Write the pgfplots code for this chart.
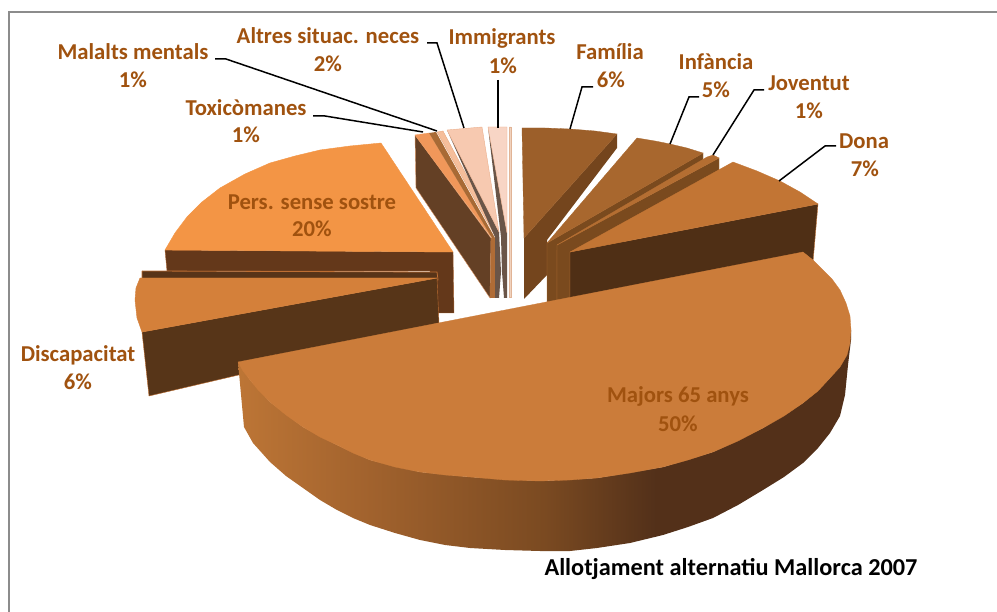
\documentclass[border=0pt]{standalone}
\usepackage{pgfplots}
\pgfplotsset{compat=1.18}
\usepackage{fontspec}
\setmainfont{Carlito}
\definecolor{lab}{HTML}{A0520F}
\definecolor{bigtop}{HTML}{CB7C3A}
\definecolor{bigdark}{HTML}{52301A}
\pgfdeclarehorizontalshading{bigside}{100bp}{rgb(0bp)=(0.74,0.46,0.21);rgb(25bp)=(0.74,0.46,0.21);rgb(35bp)=(0.64,0.39,0.18);rgb(50bp)=(0.48,0.29,0.13);rgb(59bp)=(0.325,0.19,0.10);rgb(100bp)=(0.325,0.19,0.10)}
\begin{document}
\begin{tikzpicture}
\useasboundingbox (0,0) rectangle (997pt,612pt);
\begin{axis}[at={(0,0)},anchor=south west,width=997pt,height=612pt,scale only axis,hide axis,xmin=0,xmax=997,ymin=0,ymax=612,y dir=reverse,clip=false]
% frame
\addplot[color={rgb,255:red,140;green,140;blue,140},line width=1.5pt] coordinates {(9,612)(9,12)(997,12)};
% Pers. sense sostre
\addplot[fill={rgb,255:red,100;green,56;blue,26},draw={rgb,255:red,170;green,100;blue,50},line width=.4pt] coordinates {(165,250)(453,252)(454,313)(430,313)(430,271)(167,271)(165,250)};
\addplot[fill={rgb,255:red,243;green,149;blue,69},draw={rgb,255:red,243;green,149;blue,69},line width=.4pt] coordinates {(381,143)(350,146)(320,150)(295,156)(270,163)(245,174)(220,188)(202,202)(187,217)(175,233)(165,250)(453,252)(381,143)};
% Discapacitat
\addplot[fill={rgb,255:red,88;green,52;blue,24},draw={rgb,255:red,190;green,110;blue,50},line width=.8pt] coordinates {(142,271)(437,272)(438,280)(142,280)(142,271)};
\addplot[fill={rgb,255:red,87;green,53;blue,24},draw={rgb,255:red,190;green,110;blue,50},line width=.4pt] coordinates {(142,332)(437,278)(439,323)(260,370)(149,396)(142,332)};
\addplot[fill={rgb,255:red,212;green,128;blue,58},draw={rgb,255:red,212;green,128;blue,58},line width=.4pt] coordinates {(140,278)(437,278)(142,332)(137,318)(135,300)(136,288)(140,278)};
% Toxicomanes
\addplot[fill={rgb,255:red,100;green,64;blue,37},draw={rgb,255:red,220;green,150;blue,100},line width=.4pt] coordinates {(415,135)(416,188)(490,298)(491,238)(415,135)};
\addplot[fill={rgb,255:red,176;green,108;blue,54},draw=none] coordinates {(491,238)(495,238)(495,298)(490,298)(491,238)};
\addplot[fill={rgb,255:red,240;green,151;blue,90},draw={rgb,255:red,240;green,151;blue,90},line width=.3pt] coordinates {(415,135)(429,133)(492,238)(415,135)};
% Malalts stripe
\addplot[fill={rgb,255:red,168;green,106;blue,53},draw=none] coordinates {(429,133)(436,132)(495,238)(492,238)(429,133)};
\addplot[fill={rgb,255:red,245;green,190;blue,155},draw={rgb,255:red,230;green,160;blue,115},line width=.3pt] coordinates {(437,132)(443,131)(497,232)(495,236)(437,132)};
% Altres
\addplot[fill={rgb,255:red,106;green,85;blue,72},draw=none] coordinates {(447,130)(499,232)(501,272)(499,298)(495,298)(495,237)(447,130)};
\addplot[fill={rgb,255:red,247;green,201;blue,176},draw={rgb,255:red,235;green,175;blue,140},line width=.4pt] coordinates {(447,130)(482,127)(499,232)(447,130)};
% Immigrants
\addplot[fill={rgb,255:red,106;green,85;blue,72},draw=none] coordinates {(488,127)(507,233)(507,298)(504,298)(502,272)(501,237)(488,127)};
\addplot[fill={rgb,255:red,248;green,213;blue,197},draw={rgb,255:red,235;green,175;blue,140},line width=.4pt] coordinates {(488,127)(507,127)(507,233)(488,127)};
\addplot[fill={rgb,255:red,240;green,210;blue,190},draw={rgb,255:red,225;green,180;blue,150},line width=.4pt] coordinates {(509,127)(511,127)(511,297)(509,297)(509,127)};
% Familia
\addplot[fill={rgb,255:red,116;green,69;blue,29},draw=none] coordinates {(524,238)(617,134)(617,148)(547,240)(547,275)(524,299)(524,238)};
\addplot[fill={rgb,255:red,156;green,95;blue,42},draw={rgb,255:red,156;green,95;blue,42},line width=.3pt] coordinates {(522,128)(545,128)(570,129)(595,131)(617,134)(524,238)(522,128)};
% Infancia
\addplot[fill={rgb,255:red,122;green,74;blue,30},draw={rgb,255:red,176;green,108;blue,50},line width=.4pt] coordinates {(547,243)(703,153)(703,162)(557,250)(557,302)(547,302)(547,243)};
\addplot[fill={rgb,255:red,168;green,103;blue,46},draw={rgb,255:red,168;green,103;blue,46},line width=.3pt] coordinates {(547,243)(637,138)(655,141)(670,144)(687,148)(703,153)(547,243)};
% Joventut
\addplot[fill={rgb,255:red,122;green,74;blue,30},draw={rgb,255:red,176;green,108;blue,50},line width=.4pt] coordinates {(557,245)(719,158)(719,170)(660,215)(570,280)(570,302)(557,302)(557,245)};
\addplot[fill={rgb,255:red,180;green,110;blue,50},draw={rgb,255:red,180;green,110;blue,50},line width=.3pt] coordinates {(557,245)(707,157)(713,155)(719,158)(557,245)};
% Dona
\addplot[fill={rgb,255:red,79;green,47;blue,21},draw={rgb,255:red,190;green,115;blue,55},line width=.4pt] coordinates {(570,252)(818,204)(813,262)(570,320)(570,252)};
\addplot[fill={rgb,255:red,194;green,117;blue,52},draw={rgb,255:red,194;green,117;blue,52},line width=.3pt] coordinates {(570,252)(733,162)(757,171)(780,181)(800,192)(818,204)(570,252)};
% Majors 65 anys
\addplot[shading=bigside,draw=none] coordinates {(238,362)(244,427)(253,443)(270,462)(286,476)(303,488)(320,500)(337,510)(353,518)(370,525)(395,533)(420,540)(445,545)(470,548)(505,550)(540,551)(570,551)(597,548)(630,543)(663,535)(688,527)(713,518)(738,505)(763,490)(784,477)(803,463)(818,448)(830,433)(840,416)(845,395)(848,365)(851,340)(851,330)(845,350)(830,378)(803,403)(763,428)(713,452)(663,467)(597,478)(540,481)(470,477)(420,472)(370,460)(337,445)(303,427)(270,402)(250,380)(238,362)};
\addplot[fill=bigtop,draw=bigtop,line width=.3pt] coordinates {(803,252)(238,362)(243,371)(250,380)(259,391)(270,402)(286,415)(303,427)(320,437)(337,445)(353,453)(370,460)(395,467)(420,472)(445,475)(470,477)(505,480)(540,481)(570,480)(597,478)(630,473)(663,467)(688,460)(713,452)(738,441)(763,428)(784,416)(803,403)(818,391)(830,378)(840,367)(847,355)(850,343)(851,330)(850,316)(846,303)(840,290)(832,279)(823,270)(813,260)(803,252)};
% leaders
\addplot[black,line width=1.5pt] coordinates {(215,59)(226,59)(437,131)};
\addplot[black,line width=1.5pt] coordinates {(313,116)(325,116)(423,132)};
\addplot[black,line width=1.5pt] coordinates {(427,43)(437,43)(464,128)};
\addplot[black,line width=1.5pt] coordinates {(498,80)(498,128)};
\addplot[black,line width=1.5pt] coordinates {(593,87)(582,87)(570,129)};
\addplot[black,line width=1.5pt] coordinates {(699,97)(689,97)(670,144)};
\addplot[black,line width=1.5pt] coordinates {(764,90)(754,90)(713,155)};
\addplot[black,line width=1.5pt] coordinates {(836,146)(825,146)(779,181)};
% labels
\tikzset{lb/.style={font=\fontsize{22.7}{22.7}\selectfont\bfseries,text=lab,inner sep=0pt,anchor=center}}
\node[lb] at (axis cs:133,52) {Malalts mentals};
\node[lb] at (axis cs:133,80) {1\%};
\node[lb] at (axis cs:328,36) {Altres situac. neces};
\node[lb] at (axis cs:328,64) {2\%};
\node[lb] at (axis cs:502,38) {Immigrants};
\node[lb] at (axis cs:503,66) {1\%};
\node[lb] at (axis cs:610,52) {Família};
\node[lb] at (axis cs:611,80) {6\%};
\node[lb] at (axis cs:716,62) {Infància};
\node[lb] at (axis cs:716,90) {5\%};
\node[lb] at (axis cs:809,83) {Joventut};
\node[lb] at (axis cs:809,111) {1\%};
\node[lb] at (axis cs:864,141) {Dona};
\node[lb] at (axis cs:865,169) {7\%};
\node[lb] at (axis cs:246,108) {Toxicòmanes};
\node[lb] at (axis cs:246,135) {1\%};
\node[lb] at (axis cs:312,202) {Pers. sense sostre};
\node[lb] at (axis cs:312,229) {20\%};
\node[lb] at (axis cs:78,355) {Discapacitat};
\node[lb] at (axis cs:78,382) {6\%};
\node[lb] at (axis cs:678,396) {Majors 65 anys};
\node[lb] at (axis cs:678,424) {50\%};
\node[font=\fontsize{24.3}{24.3}\selectfont\bfseries,text=black,inner sep=0pt] at (axis cs:731,569) {Allotjament alternatiu Mallorca 2007};
\end{axis}
\end{tikzpicture}
\end{document}
